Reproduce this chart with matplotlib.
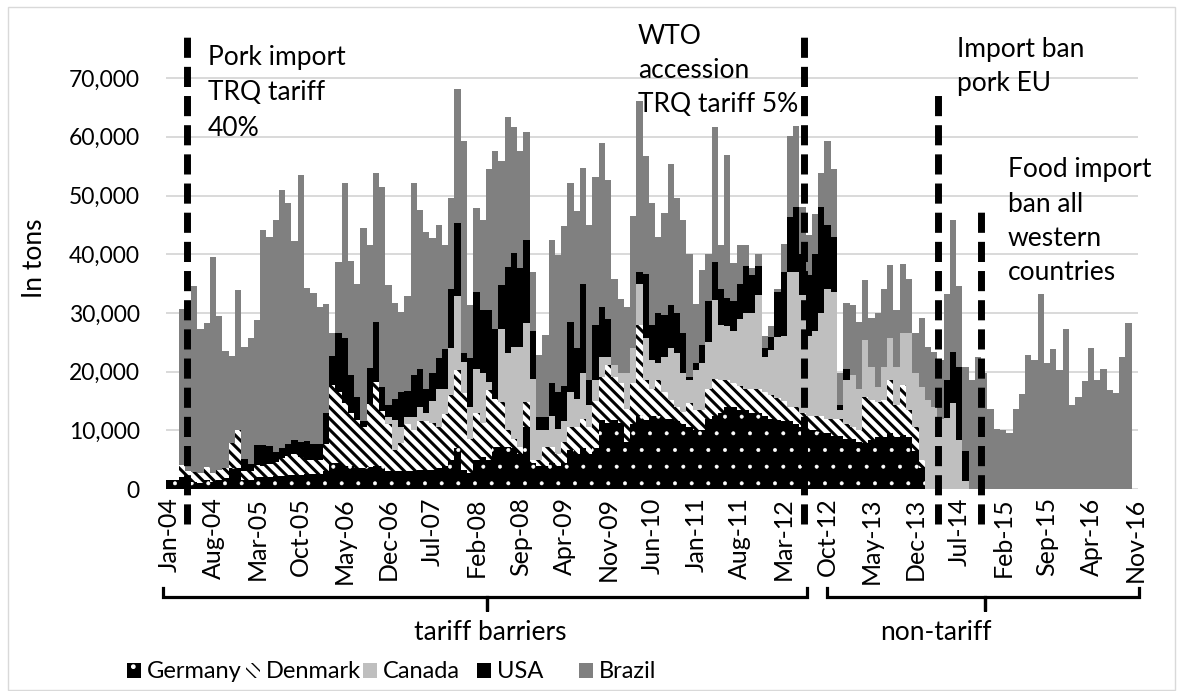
import matplotlib
matplotlib.use("Agg")
import matplotlib.pyplot as plt
import numpy as np
import pandas as pd
from matplotlib.lines import Line2D
from matplotlib.patches import Rectangle

plt.rcParams['font.family'] = ['Lato', 'DejaVu Sans']

# monthly pork imports in tons, Jan-04 .. Nov-16
months = pd.date_range('2004-01-01', periods=155, freq='MS').strftime('%b-%y').tolist()

germany = [1500, 1500, 2000, 1500, 1200, 1000, 1500, 1200, 1500, 1800,
           3500, 3500, 1500, 1500, 2000, 2000, 2000, 2200, 2200, 2300,
           2300, 2400, 2500, 2500, 2500, 3000, 4400, 4400, 4000, 4000,
           3500, 3500, 3800, 4000, 4000, 3000, 3000, 3000, 3000, 3000,
           3200, 3200, 3300, 3500, 4000, 5000, 7000, 3200, 2700, 4900,
           5500, 4900, 7200, 7200, 7200, 7000, 6000, 10600, 4500, 4000,
           4000, 4500, 4000, 4500, 6600, 6000, 7000, 6000, 7000, 11800,
           11200, 11800, 11200, 8000, 11000, 12600, 11800, 12500, 12500, 12000,
           12000, 11500, 11000, 10500, 10000, 10000, 12000, 12500, 13000, 14000,
           14000, 13500, 13500, 13000, 13000, 12500, 12000, 11800, 11500, 11500,
           11000, 10500, 10000, 10000, 9500, 9500, 9000, 9000, 8500, 8500,
           8000, 7800, 8300, 8900, 8900, 9500, 8900, 9200, 8900, 6500,
           3500, 0, 0, 0, 0, 0, 0, 0, 0, 0,
           0, 0, 0, 0, 0, 0, 0, 0, 0, 0,
           0, 0, 0, 0, 0, 0, 0, 0, 0, 0,
           0, 0, 0, 0, 0]

denmark = [0, 0, 2100, 1500, 1750, 1700, 2300, 1500, 1700, 1700,
           4300, 6500, 1500, 1500, 2100, 2000, 2300, 2400, 3100, 3400,
           3700, 3100, 2500, 2500, 2500, 4700, 13300, 12100, 10600, 8900,
           8200, 7000, 10700, 14300, 9300, 8000, 3600, 4800, 8000, 7000,
           8300, 8300, 8000, 7000, 8800, 11000, 13300, 13100, 5900, 8000,
           5700, 12000, 8200, 7700, 2800, 1500, 1200, 4300, 500, 900,
           3200, 2700, 2000, 3500, 4000, 4600, 5000, 4600, 8000, 7300,
           9900, 7300, 6800, 5700, 7000, 15400, 6800, 4500, 6000, 4600,
           3200, 2500, 2200, 4100, 3500, 3500, 5000, 6300, 5500, 4500,
           4000, 4000, 3500, 4000, 4000, 4000, 4000, 3700, 3500, 2500,
           3000, 2500, 2500, 2500, 3000, 2500, 3000, 3000, 2500, 2000,
           2000, 7900, 6900, 6000, 6300, 9100, 5400, 8600, 4600, 4000,
           1500, 0, 0, 0, 0, 0, 0, 0, 0, 0,
           0, 0, 0, 0, 0, 0, 0, 0, 0, 0,
           0, 0, 0, 0, 0, 0, 0, 0, 0, 0,
           0, 0, 0, 0, 0]

canada = [0, 0, 0, 0, 0, 0, 0, 0, 0, 0,
          0, 0, 0, 0, 0, 0, 0, 0, 0, 0,
          0, 0, 0, 0, 0, 0, 0, 0, 0, 0,
          0, 0, 0, 0, 0, 1300, 5100, 2800, 1300, 2300,
          2500, 1500, 3700, 6600, 4300, 8000, 12500, 5400, 5400, 7600,
          8600, 1400, 0, 12300, 13200, 15700, 17000, 13300, 13800, 5100,
          2800, 5300, 4300, 3500, 6000, 4800, 7700, 3700, 3600, 3400,
          1400, 2000, 1700, 6000, 6000, 7000, 7100, 5000, 2900, 5900,
          8800, 9100, 6500, 3900, 6700, 7900, 8000, 13400, 9500, 9200,
          9000, 11500, 13000, 13000, 16000, 6000, 7700, 10400, 11000, 22900,
          22900, 20000, 13500, 14500, 17500, 22000, 21500, 1500, 7500, 9000,
          7000, 9700, 5600, 2500, 5600, 7100, 6500, 8700, 13000, 9200,
          12400, 15200, 14000, 12000, 12100, 14600, 8300, 1300, 0, 0,
          0, 0, 0, 0, 0, 0, 0, 0, 0, 0,
          0, 0, 0, 0, 0, 0, 0, 0, 0, 0,
          0, 0, 0, 0, 0]

usa = [0, 0, 0, 0, 0, 0, 0, 0, 0, 0,
       0, 0, 2100, 1300, 3400, 3500, 3100, 1700, 1600, 1900,
       2300, 2500, 3100, 2700, 2700, 5300, 5000, 10000, 11100, 6500,
       4000, 1100, 6100, 10200, 4100, 2000, 3600, 6000, 4400, 7100,
       6400, 4000, 4800, 5300, 6700, 10000, 12500, 1500, 8300, 13100,
       10700, 12200, 11800, 7600, 14700, 16000, 13400, 14300, 8200, 2300,
       2300, 5600, 6300, 6000, 11900, 8600, 15300, 4300, 9400, 8500,
       6400, 0, 0, 0, 0, 2000, 11000, 6000, 8500, 7100,
       7400, 6800, 6800, 600, 1200, 3100, 7000, 6500, 6000, 4800,
       5000, 6000, 8000, 6400, 5000, 1500, 2200, 7600, 11000, 9400,
       11100, 7000, 10500, 13000, 18000, 11000, 9500, 800, 2000, 0,
       0, 0, 0, 0, 0, 0, 0, 0, 0, 0,
       0, 0, 0, 0, 6500, 8800, 12500, 5100, 0, 0,
       0, 0, 0, 0, 0, 0, 0, 0, 0, 0,
       0, 0, 0, 0, 0, 0, 0, 0, 0, 0,
       0, 0, 0, 0, 0]

brazil = [0, 0, 26600, 29000, 31650, 24500, 24500, 36800, 26300, 20000,
          14900, 23900, 19100, 21400, 21300, 36600, 35600, 39500, 44000, 41100,
          34000, 45500, 26200, 25700, 23300, 18500, 3800, 12100, 26400, 19500,
          19300, 32800, 20900, 25300, 34100, 20400, 16400, 13500, 16100, 32700,
          27200, 26800, 22900, 22600, 17800, 15600, 22800, 36100, 9000, 14300,
          15400, 24000, 30400, 21000, 25400, 21500, 19900, 18400, 10000, 10600,
          13900, 24400, 23200, 27300, 23600, 23400, 19600, 26400, 25100, 28000,
          23700, 14600, 12600, 11300, 22500, 29100, 20000, 20800, 13100, 17400,
          24000, 19600, 19300, 20900, 10100, 12800, 8100, 23000, 7600, 24400,
          6500, 6500, 3500, 1200, 2000, 2000, 1900, 500, 4700, 13800,
          13900, 8000, 6800, 6900, 5900, 14200, 11500, 5500, 11200, 11800,
          11500, 10200, 8300, 12500, 13200, 12500, 9700, 11800, 9200, 6800,
          11700, 9000, 9400, 10000, 14700, 22400, 13800, 14400, 18600, 22500,
          19700, 13600, 10300, 10000, 9500, 13600, 16100, 22800, 22000, 33200,
          21500, 23800, 20200, 27200, 14300, 15600, 18400, 24000, 18600, 20400,
          16900, 16300, 22500, 28300, 0]

series_names = ['Germany', 'Denmark', 'Canada', 'USA', 'Brazil']

# policy events: (x position in months, top of marker line in tons)
event_x = [2.85, 101.3, 122.55, 129.5]
event_top = [78200, 78200, 68000, 47200]

W, H = 1182, 691


def fx(x):
    return x / W


def fy(y):
    return 1 - y / H


fig = plt.figure(figsize=(W / 100, H / 100), dpi=100)
ax = fig.add_axes([fx(166), fy(489), 972 / W, 469.6 / H])

x = np.arange(len(months))
styles = [
    dict(color='black', edgecolor='white', hatch='.'),
    dict(color='white', edgecolor='black', hatch='\\\\\\'),
    dict(color='#bfbfbf', edgecolor='#bfbfbf'),
    dict(color='black', edgecolor='black'),
    dict(color='#808080', edgecolor='#808080'),
]
hatch_lw = [0.4, 2.2, 1.0, 1.0, 1.0]
bottom = np.zeros(len(months))
handles = []
for name, vals, st, hlw in zip(series_names, [germany, denmark, canada, usa, brazil], styles, hatch_lw):
    vals = np.array(vals, dtype=float)
    with plt.rc_context({'hatch.linewidth': hlw}):
        bc = ax.bar(x, vals, bottom=bottom, width=1.0, linewidth=0, label=name, **st)
    for p in bc.patches:
        if hasattr(p, 'set_hatch_linewidth'):
            p.set_hatch_linewidth(hlw)
    handles.append(bc)
    bottom += vals

# dashed event lines
for ex, et in zip(event_x, event_top):
    ax.plot([ex, ex], [-6000, et], color='black', lw=5, dashes=(2.9, 1.3),
            solid_capstyle='butt', dash_capstyle='butt', clip_on=False, zorder=5)

ax.set_xlim(-0.5, len(months) - 0.5)
ax.set_ylim(0, 80000)
ax.set_yticks(range(0, 80000, 10000))
ax.set_yticklabels([f'{v:,}' for v in range(0, 80000, 10000)], fontsize=16.5)
ax.set_xticks(x[::7])
ax.set_xticklabels(months[::7], rotation=90, fontsize=18, va='top', ha='center')
ax.tick_params(axis='both', length=0)
ax.tick_params(axis='y', pad=19)
ax.tick_params(axis='x', pad=6)
ax.yaxis.grid(True, color='#d9d9d9', lw=1.4)
ax.set_axisbelow(True)
for s in ax.spines.values():
    s.set_visible(False)

fig.text(fx(35), fy(258), 'In tons', fontsize=19, rotation=90, ha='center', va='center')

# event annotations
notes = [
    (208, [57, 93, 128], ['Pork import', 'TRQ tariff', '40%']),
    (638, [36, 71, 105], ['WTO', 'accession', 'TRQ tariff 5%']),
    (957, [50, 84], ['Import ban', 'pork EU']),
    (1008, [170, 205, 239, 273], ['Food import', 'ban all', 'western', 'countries']),
]
for nx, ys, lines in notes:
    for ny, txt in zip(ys, lines):
        fig.text(fx(nx), fy(ny), txt, fontsize=19, ha='left', va='center')

# period brackets under the axis
for x0, xm, x1, label, lx in [(163, 487, 807, 'tariff barriers', 490),
                              (827, 985, 1139, 'non-tariff', 936)]:
    xs = [x0, x0, xm, xm, xm, x1, x1]
    ys = [588, 597, 597, 611, 597, 597, 588]
    fig.add_artist(Line2D([fx(v) for v in xs], [fy(v) for v in ys],
                          color='black', lw=2.3, solid_joinstyle='miter'))
    fig.text(fx(lx), fy(633), label, fontsize=19, ha='center', va='center')

# legend entries in evenly spaced slots
for h, name, lx in zip(handles, series_names, [127, 246, 363, 477, 579]):
    fig.legend(handles=[h], labels=[name], loc='center left',
               bbox_to_anchor=(fx(lx), fy(672)), frameon=False, fontsize=17,
               handlelength=0.6, handleheight=0.6, handletextpad=0.25,
               borderpad=0, borderaxespad=0)

fig.add_artist(Rectangle((fx(8), fy(690)), fx(1167), 683 / H, fill=False,
                         edgecolor='#d9d9d9', lw=1, transform=fig.transFigure))

fig.savefig('out.png', dpi=100)
